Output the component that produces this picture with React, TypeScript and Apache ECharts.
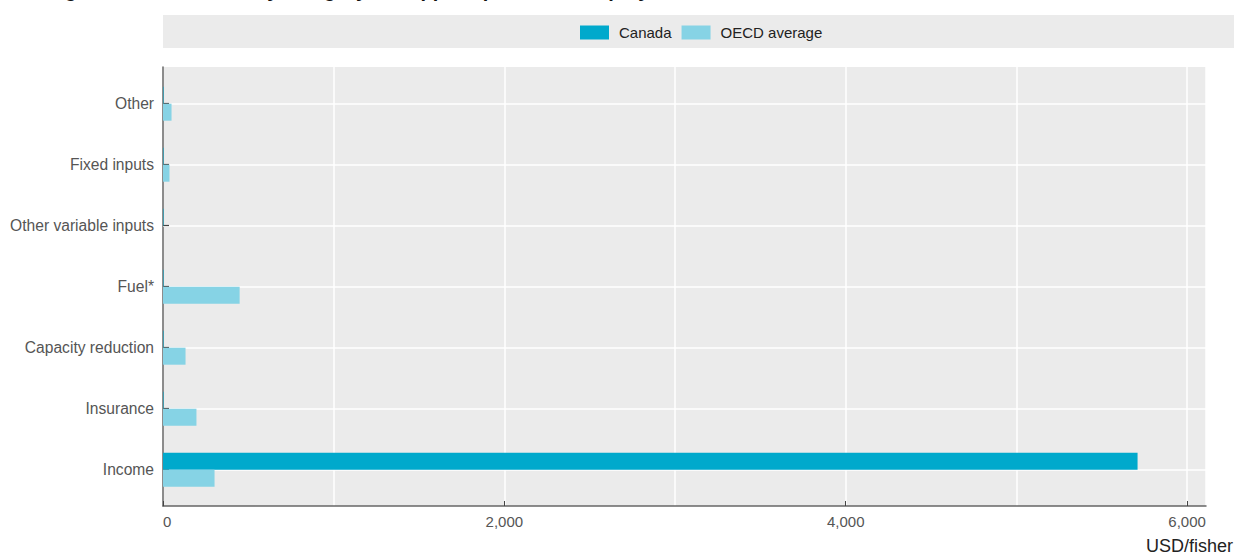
import React, { useEffect, useRef } from "react";
import * as echarts from "echarts";

const titleText = "Average annual transfers by category of support, per fisher employed";
const categories = ["Other", "Fixed inputs", "Other variable inputs", "Fuel*", "Capacity reduction", "Insurance", "Income"];
const canadaValues = [3, 3, 3, 3, 3, 3, 5710];
const oecdValues = [50, 38, 0, 449, 132, 196, 302];
const seriesNames = ["Canada", "OECD average"];
const unitLabel = "USD/fisher";

const FONT = "'Liberation Sans', Arial, Helvetica, sans-serif";
const X_MAX = 6111;

export default function App() {
  const ref = useRef<HTMLDivElement>(null);
  useEffect(() => {
    if (!ref.current) return;
    const chart = echarts.init(ref.current, null, { renderer: "svg" });
    const plotLeft = 163;
    const plotWidth = 1043;
    chart.setOption({
      animation: false,
      textStyle: { fontFamily: FONT },
      graphic: [
        {
          type: "rect",
          z: -10,
          silent: true,
          shape: { x: 163, y: 15, width: 1071, height: 33 },
          style: { fill: "#ebebeb" },
        },
        {
          type: "text",
          x: 10,
          y: -20,
          style: {
            text: titleText,
            font: `bold 20px ${FONT}`,
            fill: "#111",
            textVerticalAlign: "top",
          },
        },
        {
          type: "text",
          x: 1233,
          y: 546,
          style: {
            text: unitLabel,
            font: `18px ${FONT}`,
            fill: "#222",
            textAlign: "right",
            textVerticalAlign: "middle",
          },
        },
      ],
      legend: {
        data: seriesNames,
        left: 580,
        top: 25,
        itemWidth: 29,
        itemHeight: 14,
        itemGap: 10,
        icon: "rect",
        padding: 0,
        textStyle: { fontSize: 15, color: "#222", fontFamily: FONT, padding: [0, 0, 0, 5] },
      },
      grid: [
        { left: plotLeft, top: 67, width: plotWidth, height: 439, show: true, backgroundColor: "#ebebeb", borderWidth: 0 },
        { left: plotLeft, top: 73.2, width: plotWidth, height: 427 },
        { left: plotLeft, top: 73.2, width: plotWidth, height: 427 },
      ],
      xAxis: [
        {
          gridIndex: 0,
          type: "value",
          position: "top",
          min: 0,
          max: X_MAX,
          interval: 1000,
          axisLine: { show: false },
          axisTick: { show: false },
          axisLabel: { show: false },
          splitLine: { show: true, lineStyle: { color: "#ffffff", width: 1.5 } },
        },
        {
          gridIndex: 0,
          type: "value",
          position: "bottom",
          min: 0,
          max: X_MAX,
          interval: 2000,
          axisLine: { show: true, lineStyle: { color: "#666", width: 1.5 } },
          axisTick: { show: true, inside: true, length: 5, lineStyle: { color: "#444" } },
          axisLabel: {
            show: true,
            color: "#555",
            fontSize: 15,
            fontFamily: FONT,
            margin: 8,
            alignMinLabel: "left",
            formatter: (v: number) => v.toLocaleString("en-US"),
          },
          splitLine: { show: false },
        },
        { gridIndex: 1, type: "value", min: 0, max: X_MAX, show: false },
        { gridIndex: 2, type: "value", min: 0, max: X_MAX, show: false },
      ],
      yAxis: [
        {
          gridIndex: 0,
          type: "value",
          min: 0,
          max: 1,
          axisLine: { show: true, lineStyle: { color: "#666", width: 1.5 } },
          axisTick: { show: false },
          axisLabel: { show: false },
          splitLine: { show: false },
        },
        {
          gridIndex: 1,
          type: "category",
          data: categories,
          inverse: true,
          axisLine: { show: false },
          axisTick: { show: true, alignWithLabel: true, inside: true, length: plotWidth, lineStyle: { color: "#ffffff", width: 1.5 } },
          axisLabel: { show: true, color: "#555", fontSize: 15.6, fontFamily: FONT, margin: 9 },
          splitLine: { show: false },
        },
        {
          gridIndex: 2,
          type: "category",
          data: categories,
          inverse: true,
          axisLine: { show: false },
          axisTick: { show: true, alignWithLabel: true, inside: true, length: 6, lineStyle: { color: "#444", width: 1.2 } },
          axisLabel: { show: false },
          splitLine: { show: false },
        },
      ],
      series: [
        {
          name: seriesNames[0],
          type: "bar",
          xAxisIndex: 2,
          yAxisIndex: 1,
          data: canadaValues,
          barWidth: 17,
          barGap: "0%",
          itemStyle: { color: "#00a9cc" },
        },
        {
          name: seriesNames[1],
          type: "bar",
          xAxisIndex: 2,
          yAxisIndex: 1,
          data: oecdValues,
          barWidth: 17,
          barGap: "0%",
          itemStyle: { color: "#86d3e5" },
        },
      ],
    });
    return () => chart.dispose();
  }, []);
  return <div ref={ref} style={{ position: "absolute", left: 0, top: 0, width: 1234, height: 555 }} />;
}
